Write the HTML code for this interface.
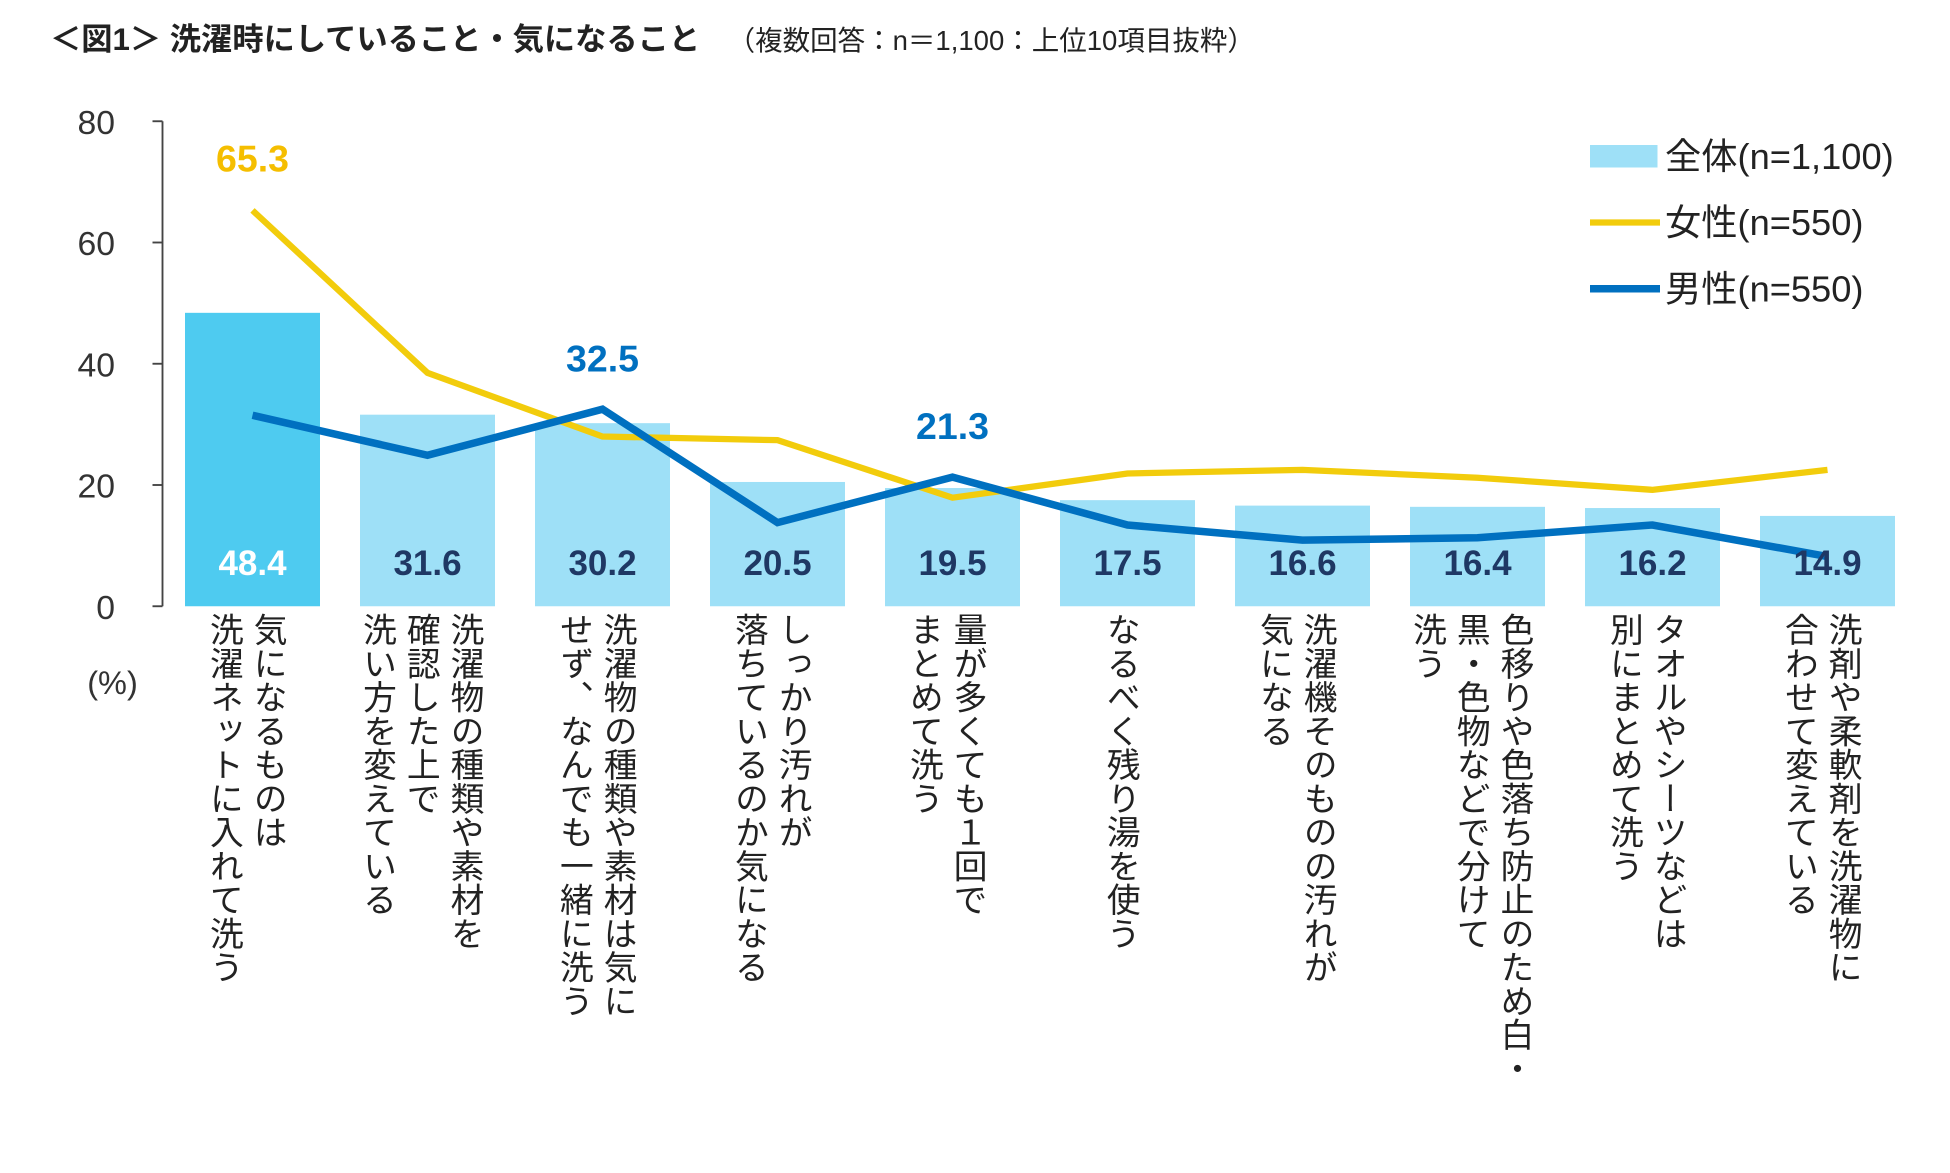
<!DOCTYPE html>
<html><head><meta charset="utf-8">
<style>
html,body{margin:0;padding:0;background:#fff;overflow:hidden;width:1950px;height:1173px;}
#wrap{position:absolute;left:0;top:0;width:1560px;height:938px;transform:scale(1.25);transform-origin:0 0;font-family:"Liberation Sans","Noto Sans CJK JP",sans-serif;color:#222;}
.cat{position:absolute;top:490px;writing-mode:vertical-rl;font-size:27px;line-height:35px;transform:translateX(-50%);white-space:nowrap;color:#222;}
#title{position:absolute;left:40px;top:12px;font-size:25px;font-weight:bold;white-space:nowrap;}
#title span{font-weight:normal;font-size:22px;margin-left:22px;}
</style></head><body>
<div id="wrap">
<div id="title">＜図1＞ 洗濯時にしていること・気になること<span>（複数回答：n＝1,100：上位10項目抜粋）</span></div>
<svg id="svg" width="1560" height="938" style="position:absolute;left:0;top:0"></svg>
</div>
<script>
const categories=[["気になるものは","洗濯ネットに入れて洗う"],["洗濯物の種類や素材を","確認した上で","洗い方を変えている"],["洗濯物の種類や素材は気に","せず、なんでも一緒に洗う"],["しっかり汚れが","落ちているのか気になる"],["量が多くても１回で","まとめて洗う"],["なるべく残り湯を使う"],["洗濯機そのものの汚れが","気になる"],["色移りや色落ち防止のため白・","黒・色物などで分けて","洗う"],["タオルやシーツなどは","別にまとめて洗う"],["洗剤や柔軟剤を洗濯物に","合わせて変えている"]];
const totalValues=[48.4,31.6,30.2,20.5,19.5,17.5,16.6,16.4,16.2,14.9];
const femaleValues=[65.3,38.5,28.0,27.4,17.9,21.9,22.5,21.2,19.2,22.5];
const maleValues=[31.5,24.9,32.5,13.8,21.3,13.4,10.9,11.3,13.4,8.2];
const yTicks=[0,20,40,60,80];
const NS="http://www.w3.org/2000/svg";
const svg=document.getElementById('svg');
const wrap=document.getElementById('wrap');
const y=v=>485-v*4.85;
const x=i=>202+i*140.0;
function el(t,a,p){const e=document.createElementNS(NS,t);for(const k in a)e.setAttribute(k,a[k]);(p||svg).appendChild(e);return e;}
let ax=el('line',{x1:130,y1:97,x2:130,y2:485,stroke:'#444','stroke-width':1.5});


yTicks.forEach(t=>{
 let tk=el('line',{x1:122,x2:130,y1:y(t),y2:y(t),stroke:'#444','stroke-width':1.5});
 
 
 let tl=el('text',{x:92,y:y(t)+10,'text-anchor':'end','font-size':27,fill:'#333'});
 tl.textContent=t;
 
 
});
let pc=el('text',{x:90,y:555,'text-anchor':'middle','font-size':26,fill:'#333'});
pc.textContent='(%)';


totalValues.forEach((v,i)=>{
 let r=el('rect',{x:x(i)-54,y:y(v),width:108,height:485-y(v),fill:i===0?'#4ECBF0':'#9EE0F7'});
 
 
});
function line(vals,color,w,name){
 let p=el('polyline',{points:vals.map((v,i)=>x(i)+','+y(v)).join(' '),fill:'none',stroke:color,'stroke-width':w,'stroke-linejoin':'miter'});
 
 
}
line(femaleValues,'#F2CC0C',5,'line-female');
line(maleValues,'#0070C0',6,'line-male');
totalValues.forEach((v,i)=>{
 let t=el('text',{x:x(i),y:460,'text-anchor':'middle','font-size':28,'font-weight':'bold',fill:i===0?'#fff':'#1F3864'});
 t.textContent=v.toFixed(1);
 
 
});
[[0,femaleValues[0],'#F5BE00',137],[2,maleValues[2],'#0070C0',297],[4,maleValues[4],'#0070C0',351]].forEach(a=>{
 let t=el('text',{x:x(a[0]),y:a[3],'text-anchor':'middle','font-size':30,'font-weight':'bold',fill:a[2]});
 t.textContent=a[1].toFixed(1);
 
 
});
let lg=el('g',{});


let s1=el('rect',{x:1272,y:116,width:54,height:18,fill:'#9EE0F7'},lg);


let s2=el('line',{x1:1272,x2:1328,y1:178,y2:178,stroke:'#F2CC0C','stroke-width':5},lg);


let s3=el('line',{x1:1272,x2:1328,y1:231,y2:231,stroke:'#0070C0','stroke-width':6},lg);


[['全体(n=1,100)',125],['女性(n=550)',178],['男性(n=550)',231]].forEach(a=>{
 let t=el('text',{x:1332,y:a[1]+10,'font-size':29,fill:'#222'},lg);
 t.textContent=a[0];
 
 
});
categories.forEach((c,i)=>{
 const d=document.createElement('div');
 d.className='cat';
 d.style.left=(x(i)-6)+'px';
 d.innerHTML=c.join('<br>');
 
 
 wrap.appendChild(d);
});
</script>
</body></html>
